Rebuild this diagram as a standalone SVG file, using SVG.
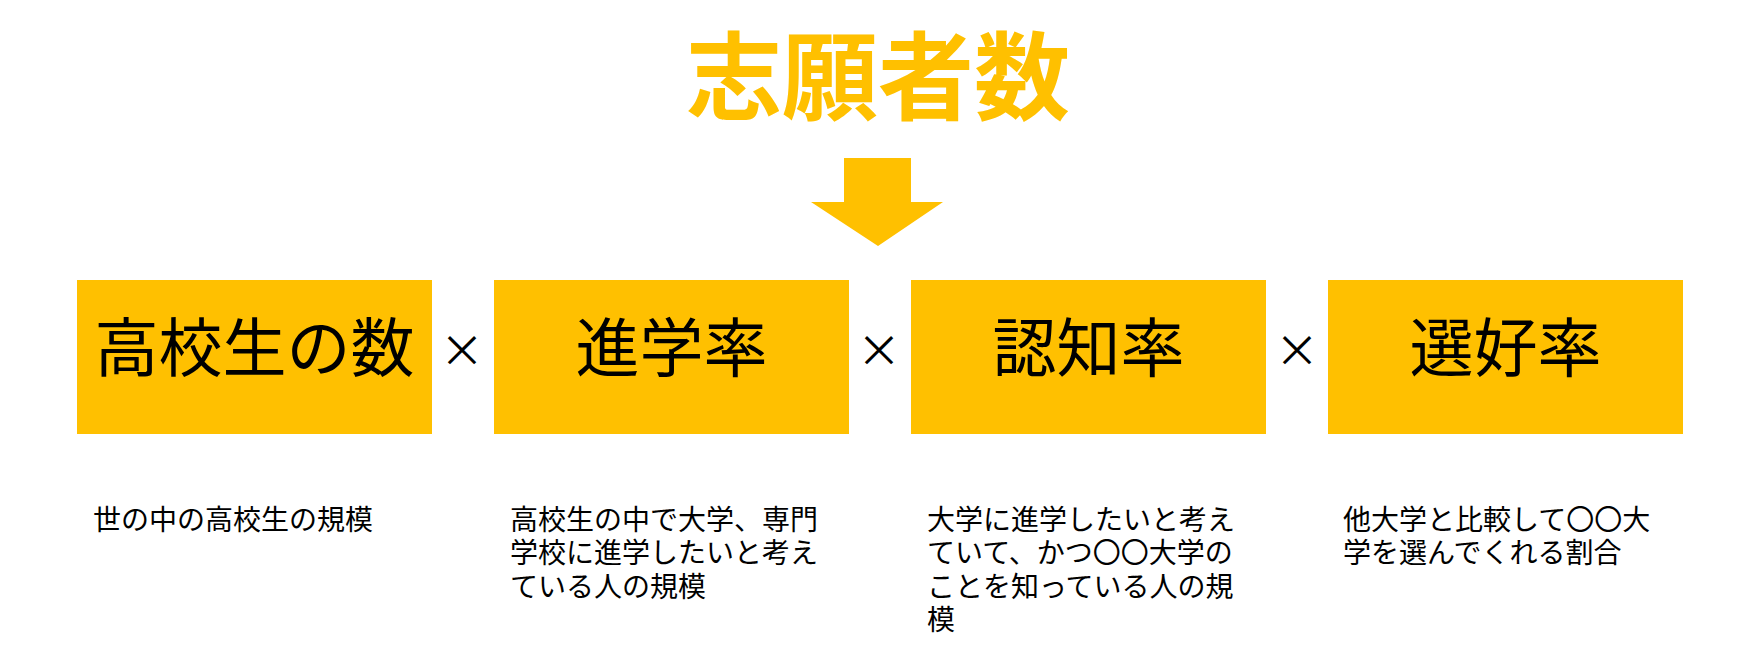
<svg xmlns="http://www.w3.org/2000/svg" width="1756" height="658" viewBox="0 0 1756 658">
<style>
.box{fill:#FFC000}
.title{font-family:"Noto Sans CJK JP","Noto Sans CJK SC",sans-serif;font-size:96px;font-weight:700;fill:#FFC000;text-anchor:middle}
.lbl{font-family:"Noto Sans CJK JP","Noto Sans CJK SC",sans-serif;font-size:64px;fill:#000;text-anchor:middle}
.times{font-family:"Noto Sans CJK JP","Noto Sans CJK SC",sans-serif;font-size:44px;fill:#000;text-anchor:middle}
.desc{font-family:"Noto Sans CJK JP","Noto Sans CJK SC",sans-serif;font-size:28px;fill:#000}
</style>
<rect width="1756" height="658" fill="#fff"/>
<g id="title"><text class="title" x="878" y="112">志願者数</text></g>
<g id="connectors">
<polygon fill="#FFC000" points="844,158 911,158 911,202 943,202 878,246 811,202 844,202"/>
</g>
<g id="node1">
<rect class="box" x="77" y="280" width="355" height="154"/>
<text class="lbl" x="254.5" y="371">高校生の数</text>
<text class="desc" x="93" y="530">世の中の高校生の規模</text>
</g>
<g id="node2">
<rect class="box" x="494" y="280" width="355" height="154"/>
<text class="lbl" x="671.5" y="371">進学率</text>
<text class="desc" x="510" y="530">高校生の中で大学、専門</text>
<text class="desc" x="510" y="563.3">学校に進学したいと考え</text>
<text class="desc" x="510" y="596.7">ている人の規模</text>
</g>
<g id="node3">
<rect class="box" x="911" y="280" width="355" height="154"/>
<text class="lbl" x="1088.5" y="371">認知率</text>
<text class="desc" x="927" y="530">大学に進学したいと考え</text>
<text class="desc" x="927" y="563.3">ていて、かつ〇〇大学の</text>
<text class="desc" x="927" y="596.7">ことを知っている人の規</text>
<text class="desc" x="927" y="630">模</text>
</g>
<g id="node4">
<rect class="box" x="1328" y="280" width="355" height="154"/>
<text class="lbl" x="1505.5" y="371">選好率</text>
<text class="desc" x="1343" y="530">他大学と比較して〇〇大</text>
<text class="desc" x="1343" y="563.3">学を選んでくれる割合</text>
</g>
<g id="ops">
<text class="times" x="462" y="367">×</text>
<text class="times" x="879" y="367">×</text>
<text class="times" x="1297" y="367">×</text>
</g>
</svg>
